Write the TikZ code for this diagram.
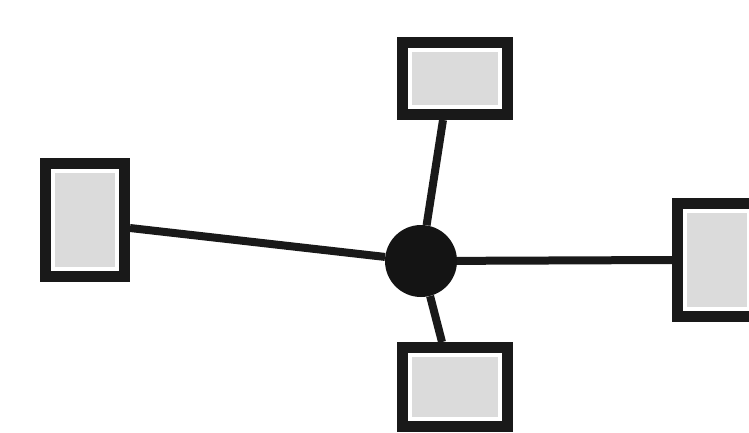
\documentclass[tikz,border=0pt]{standalone}
\begin{document}
\begin{tikzpicture}[x=1pt,y=-1pt,
  box/.style={draw=black!90, line width=11pt, fill=black!14, rectangle, inner sep=0pt,
    path picture={\draw[white, line width=4pt]
      ([xshift=7.5pt,yshift=-7.5pt]path picture bounding box.north west) rectangle
      ([xshift=-7.5pt,yshift=7.5pt]path picture bounding box.south east);}},
  hubstyle/.style={circle, fill=black!92, inner sep=0pt, minimum size=72pt},
  conn/.style={draw=black!90, line width=8pt}]
\clip (0,0) rectangle (749,432);
\useasboundingbox (0,0) rectangle (749,432);
\node[hubstyle] (hub) at (421,261) {};
\node[box, minimum width=105pt, minimum height=72pt] (top) at (455,78.5) {};
\node[box, minimum width=79pt, minimum height=113pt] (left) at (85,220) {};
\node[box, minimum width=79pt, minimum height=113pt] (right) at (717,260) {};
\node[box, minimum width=105pt, minimum height=79pt] (bot) at (455,387) {};
\coordinate (ta) at ([xshift=-12pt]top.south);
\coordinate (la) at ([yshift=-8pt]left.east);
\coordinate (ra) at (right.west);
\coordinate (ba) at ([xshift=-13pt]bot.north);
\draw[conn] (hub) -- (ta);
\draw[conn] (hub) -- (la);
\draw[conn] (hub) -- (ra);
\draw[conn] (hub) -- (ba);
\end{tikzpicture}
\end{document}
